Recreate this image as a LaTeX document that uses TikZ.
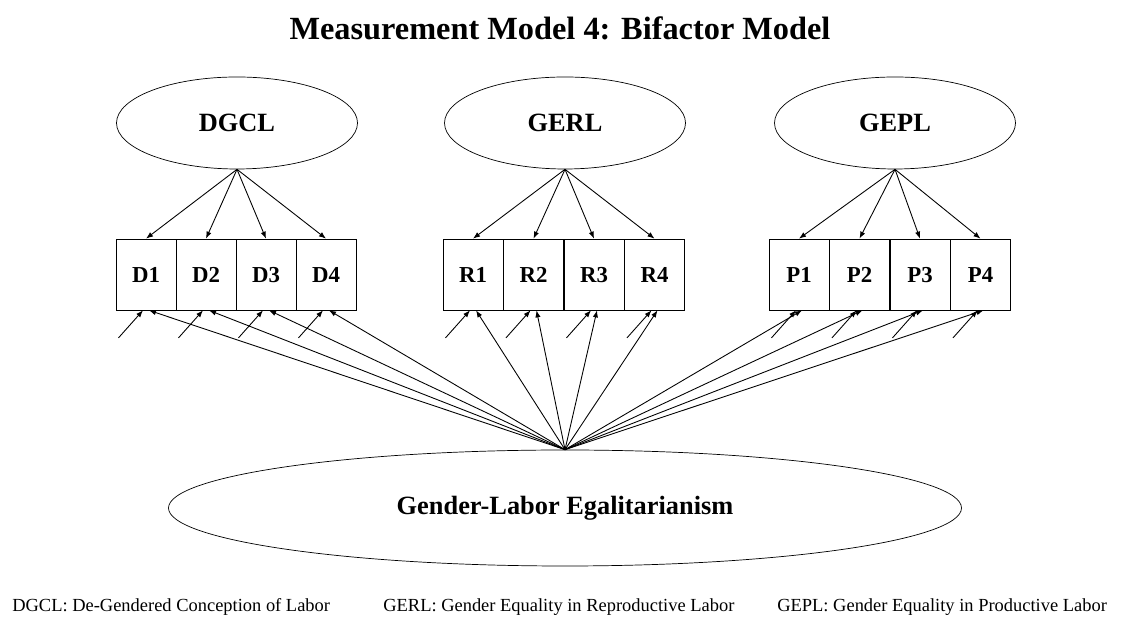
\documentclass[tikz,border=0pt]{standalone}
\usepackage{fontspec}
\setmainfont{Liberation Serif}
\usetikzlibrary{shapes.geometric,arrows.meta}
\tikzset{
  latent/.style={draw,ellipse,minimum width=4.82cm,minimum height=1.84cm,inner sep=0pt,font=\fontsize{15}{18}\selectfont\bfseries},
  item/.style={draw,rectangle,minimum width=1.2cm,minimum height=1.42cm,inner sep=0pt,text height=9pt,text depth=0pt,font=\fontsize{13}{15}\selectfont\bfseries},
  load/.style={-{Latex[length=4pt,width=3pt]},line width=0.5pt},
  note/.style={anchor=west,inner sep=0pt,font=\fontsize{10.5}{12}\selectfont}
}
\begin{document}
\begin{tikzpicture}
\useasboundingbox (0,0) rectangle (22.5,12.48);
\node[font=\fontsize{18.4}{22}\selectfont\bfseries] (title) at (11.2,11.92) {Measurement Model 4: Bifactor Model};
\node[latent] (DGCL) at (4.74,10.02) {DGCL};
\node[latent] (GERL) at (11.3,10.02) {GERL};
\node[latent] (GEPL) at (17.9,10.02) {GEPL};
\foreach \i in {1,...,4} {
  \node[item] (D\i) at ({2.92+1.2*(\i-1)},6.99) {D\i};
  \node[item] (R\i) at ({9.46+1.21*(\i-1)},6.99) {R\i};
  \node[item] (P\i) at ({15.98+1.21*(\i-1)},6.99) {P\i};
}
\node[latent,minimum width=15.86cm,minimum height=2.32cm] (GLE) at (11.3,2.32) {Gender-Labor Egalitarianism};
\foreach \f/\l in {DGCL/D,GERL/R,GEPL/P}
  \foreach \i in {1,...,4} {
    \draw[load] (\f.south) -- (\l\i.north);
    \draw[load] (GLE.north) -- ([xshift=0.06cm]\l\i.south);
    \coordinate (e\l\i) at ([shift={(-0.55,-0.55)}]\l\i.south);
    \draw[load] (e\l\i) -- ([xshift=-0.06cm]\l\i.south);
  }
\node[note] (noteD) at (0.24,0.34) {DGCL: De-Gendered Conception of Labor};
\node[note] (noteR) at (7.66,0.34) {GERL: Gender Equality in Reproductive Labor};
\node[note] (noteP) at (15.54,0.34) {GEPL: Gender Equality in Productive Labor};
\end{tikzpicture}
\end{document}
